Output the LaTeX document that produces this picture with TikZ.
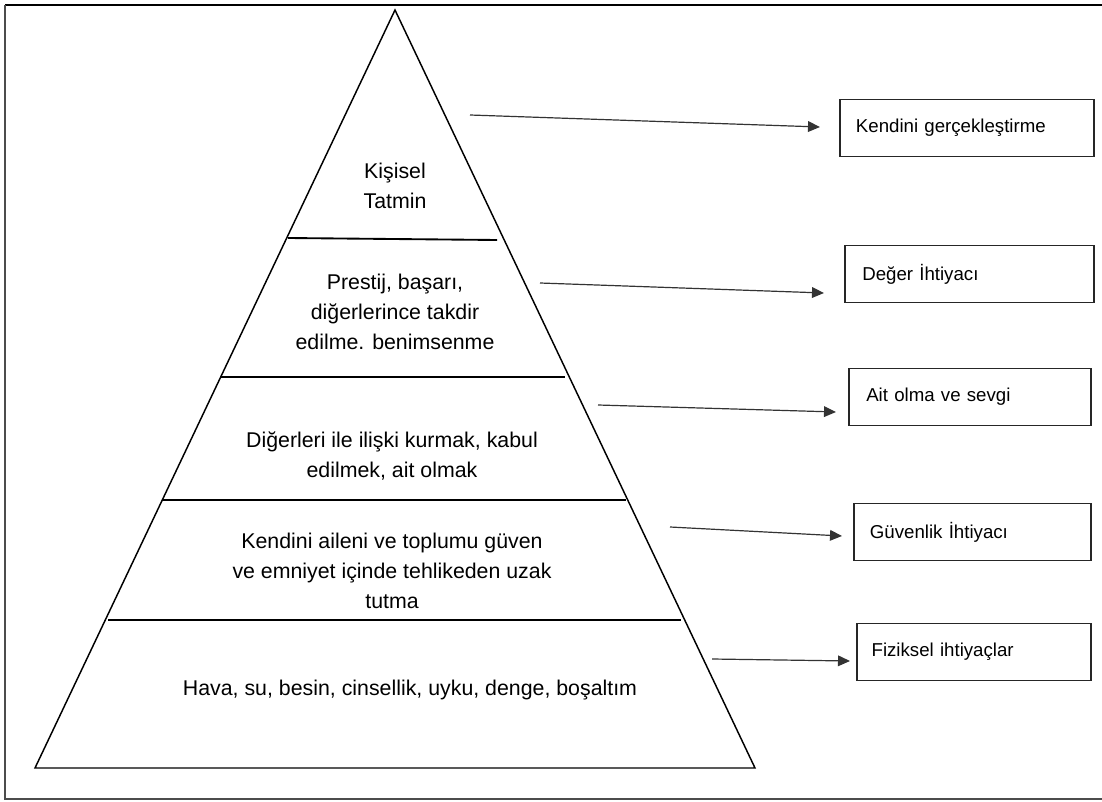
\documentclass[tikz,border=0pt]{standalone}
\usepackage{fontspec}
\setmainfont{Liberation Sans}
\usetikzlibrary{arrows.meta}
\tikzset{
  level/.style={align=center,inner sep=0.75pt,font=\fontsize{16}{22.5}\selectfont},
  need/.style={draw,draw=black!85,line width=1.4pt,minimum height=42.75pt,anchor=west,inner sep=0pt,text width=#1,align=left,font=\fontsize{14}{16}\selectfont},
  link/.style={-{Triangle[length=9pt,width=8pt]},line width=0.9pt,black!80},
}
\begin{document}
\begin{tikzpicture}[x=0.75pt,y=0.75pt,yscale=-1,xscale=1]
\useasboundingbox (0,0) rectangle (1102,802);
% frame (right side is cut off)
\draw [line width=1.6pt] (1102,5) -- (5,5) ;
\draw [line width=0.9pt,black!70] (5,5) -- (5,799) -- (1102,799) ;

%Shape: pyramid
\draw [line width=1.1pt] (395,10) -- (755,768) -- (35,768) -- cycle ;
% dividers
\draw [line width=1.4pt] (288,238) -- (497,240) ;
\draw [line width=1.4pt] (220,377) -- (565,377) ;
\draw [line width=1.4pt] (162,500) -- (626,500) ;
\draw [line width=1.4pt] (108,620) -- (681,620) ;

% Text Node
\node [level] (tatmin) at (395,186) {Kişisel\\Tatmin};
% Text Node
\node [level] (prestij) at (395,312) {Prestij, başarı,\\diğerlerince takdir\\edilme. benimsenme};
% Text Node
\node [level] (iliski) at (392,456) {Diğerleri ile ilişki kurmak, kabul\\edilmek, ait olmak};
% Text Node
\node [level] (guven) at (392,571) {Kendini aileni ve toplumu güven\\ve emniyet içinde tehlikeden uzak\\tutma};
% Text Node
\node [level] (fizik) at (410,690) {Hava, su, besin, cinsellik, uyku, denge, boşaltım};

% right boxes
\node [need=190.5pt] (kendini) at (839,128) {\hspace{12pt}Kendini gerçekleştirme};
\node [need=186.75pt] (deger) at (844,274) {\hspace{13pt}Değer İhtiyacı};
\node [need=181.5pt] (ait) at (848,397) {\hspace{13pt}Ait olma ve sevgi};
\node [need=177.75pt] (guvenlik) at (853,532) {\hspace{12pt}Güvenlik İhtiyacı};
\node [need=175.5pt] (fiziksel) at (856,652) {\hspace{11pt}Fiziksel ihtiyaçlar};

% arrow starts
\coordinate (s1) at (470,115);
\coordinate (s2) at (540,283);
\coordinate (s3) at (598,405);
\coordinate (s4) at (670,527);
\coordinate (s5) at (712,659);

\draw [link] (s1) -- (820,127) ;
\draw [link] (s2) -- (824,293) ;
\draw [link] (s3) -- (836,412) ;
\draw [link] (s4) -- (842,536) ;
\draw [link] (s5) -- (850,661) ;
\end{tikzpicture}
\end{document}
